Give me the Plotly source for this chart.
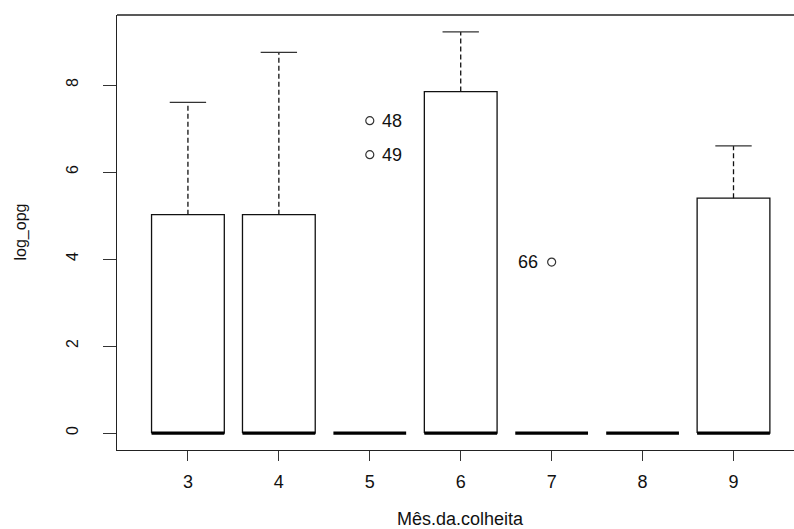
import plotly.graph_objects as go

# ---- data ----
categories = ["3", "4", "5", "6", "7", "8", "9"]
lower_whisker = [0, 0, 0, 0, 0, 0, 0]
q1 = [0, 0, 0, 0, 0, 0, 0]
median = [0, 0, 0, 0, 0, 0, 0]
q3 = [5.02, 5.02, 0, 7.85, 0, 0, 5.40]
upper_whisker = [7.60, 8.75, 0, 9.22, 0, 0, 6.60]

outlier_cat = ["5", "5", "7"]
outlier_val = [7.18, 6.40, 3.93]
outlier_label = ["48", "49", "66"]
outlier_side = ["right", "right", "left"]

y_ticks = [0, 2, 4, 6, 8]
x_title = "Mês.da.colheita"
y_title = "log_opg"

FONT = "Liberation Sans, Arial, sans-serif"
BOXW = 0.4     # half box width (R boxwex 0.8)
CAPW = 0.2     # half staple width

fig = go.Figure()
pos = {c: i + 1 for i, c in enumerate(categories)}

for i, c in enumerate(categories):
    x = pos[c]
    # whiskers (dashed)
    fig.add_trace(go.Scatter(x=[x, x], y=[q3[i], upper_whisker[i]], mode="lines",
                             line=dict(color="#111", width=1.3, dash="5px,3px"),
                             hoverinfo="skip", showlegend=False))
    fig.add_trace(go.Scatter(x=[x, x], y=[q1[i], lower_whisker[i]], mode="lines",
                             line=dict(color="#111", width=1.3, dash="5px,3px"),
                             hoverinfo="skip", showlegend=False))
    # staples
    for v in (upper_whisker[i], lower_whisker[i]):
        fig.add_trace(go.Scatter(x=[x - CAPW, x + CAPW], y=[v, v], mode="lines",
                                 line=dict(color="#333", width=1.3),
                                 hoverinfo="skip", showlegend=False))
    # box
    if q3[i] > q1[i]:
        fig.add_trace(go.Scatter(x=[x - BOXW, x + BOXW, x + BOXW, x - BOXW, x - BOXW],
                                 y=[q1[i], q1[i], q3[i], q3[i], q1[i]], mode="lines",
                                 line=dict(color="#111", width=1.3),
                                 hoverinfo="skip", showlegend=False))
    # median (thick)
    fig.add_trace(go.Scatter(x=[x - BOXW, x + BOXW], y=[median[i], median[i]], mode="lines",
                             line=dict(color="#000", width=3.2),
                             hoverinfo="skip", showlegend=False))

# outliers
fig.add_trace(go.Scatter(x=[pos[c] for c in outlier_cat], y=outlier_val, mode="markers",
                         marker=dict(symbol="circle-open", size=8, color="#333",
                                     line=dict(width=1.2)),
                         hoverinfo="skip", showlegend=False))
for c, v, lab, side in zip(outlier_cat, outlier_val, outlier_label, outlier_side):
    fig.add_annotation(x=pos[c], y=v, text=lab, showarrow=False,
                       xanchor="left" if side == "right" else "right",
                       xshift=10 if side == "right" else -12,
                       font=dict(family=FONT, size=18, color="#111"))

# border top (right edge falls outside the picture)
fig.add_shape(type="line", xref="paper", yref="paper", x0=0, x1=1, y0=1, y1=1,
              line=dict(color="#222", width=1.3))

# axis titles
fig.add_annotation(xref="paper", yref="paper", x=(460 - 117) / 677, y=0,
                   yshift=-69, text=x_title, showarrow=False,
                   xanchor="center", yanchor="middle",
                   font=dict(family=FONT, size=18, color="#111"))
fig.add_annotation(xref="paper", yref="paper", x=0, xshift=-97, y=0.5,
                   text=y_title, showarrow=False, textangle=-90,
                   xanchor="center", yanchor="middle",
                   font=dict(family=FONT, size=16, color="#111"))

fig.update_layout(
    width=794, height=529,
    margin=dict(l=117, r=0, t=15, b=79),
    plot_bgcolor="white", paper_bgcolor="white",
    font=dict(family=FONT, size=18, color="#111"),
    xaxis=dict(range=[0.22, 0.22 + 677 / 90.93], tickvals=[pos[c] for c in categories],
               ticktext=categories, showgrid=False, zeroline=False,
               showline=True, linecolor="#222", linewidth=1.3,
               ticks="outside", ticklen=10, tickcolor="#333", tickwidth=1.2,
               ticklabelstandoff=5, automargin=False),
    yaxis=dict(range=[-0.39, 9.61], tickvals=y_ticks, ticktext=[str(t) for t in y_ticks],
               showgrid=False, zeroline=False,
               showline=True, linecolor="#222", linewidth=1.3,
               ticks="outside", ticklen=13, tickcolor="#333", tickwidth=1.2,
               tickangle=-90, ticklabelstandoff=18, automargin=False,
               tickfont=dict(size=16)),
)

fig.write_html("out.html", config={"displayModeBar": False},
               post_script="document.body.style.margin='0';document.body.style.padding='0';")
